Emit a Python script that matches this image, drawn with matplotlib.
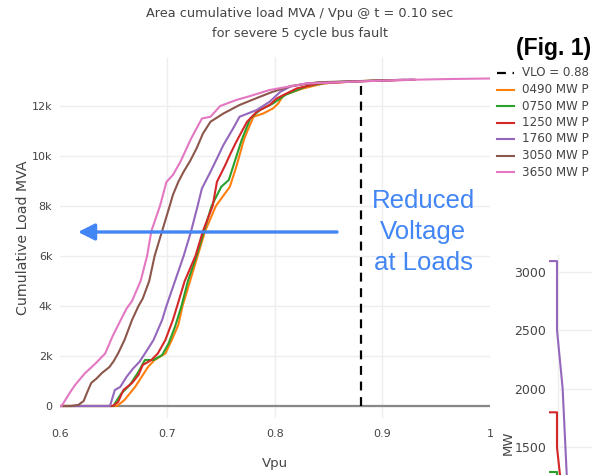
import matplotlib.pyplot as plt
from matplotlib.lines import Line2D
from matplotlib.ticker import FuncFormatter

# cumulative load (MVA) vs Vpu for each PDCI flow case
v_0490 = [0.600, 0.653, 0.660, 0.670, 0.676, 0.682, 0.688, 0.698, 0.704, 0.710, 0.714, 0.721, 0.728, 0.735,
          0.745, 0.758, 0.764, 0.771, 0.774, 0.780, 0.789, 0.798, 0.803, 0.808, 0.826, 0.845, 0.870, 0.900]
mva_0490 = [0, 0, 240, 770, 1170, 1570, 1840, 2100, 2640, 3240, 4000, 5000, 6000, 7000,
            8000, 8770, 9570, 10640, 10970, 11570, 11700, 11900, 12100, 12440, 12700, 12900, 12980, 13030]

v_0750 = [0.600, 0.650, 0.651, 0.657, 0.665, 0.673, 0.679, 0.687, 0.695, 0.701, 0.707, 0.713, 0.719, 0.727, 0.734,
          0.741, 0.750, 0.757, 0.763, 0.769, 0.777, 0.786, 0.798, 0.810, 0.830, 0.850, 0.900]
mva_0750 = [0, 0, 100, 500, 840, 1370, 1840, 1840, 2040, 2500, 3170, 4000, 5000, 6000, 7000,
            8000, 8770, 9040, 9840, 10640, 11500, 11840, 12100, 12450, 12800, 12950, 13020]

v_1250 = [0.600, 0.649, 0.654, 0.659, 0.667, 0.673, 0.677, 0.685, 0.691, 0.698, 0.705, 0.709, 0.716, 0.726, 0.733,
          0.742, 0.746, 0.753, 0.758, 0.764, 0.774, 0.783, 0.795, 0.8015, 0.820, 0.840, 0.880, 0.930]
mva_1250 = [0, 0, 160, 640, 920, 1240, 1640, 1840, 2100, 2640, 3440, 4000, 5000, 6000, 7000,
            8000, 8970, 9570, 10040, 10570, 11370, 11770, 12040, 12300, 12700, 12900, 12990, 13050]

v_1760 = [0.600, 0.6465, 0.651, 0.656, 0.662, 0.668, 0.674, 0.679, 0.687, 0.695, 0.699, 0.707, 0.715, 0.722,
          0.728, 0.732, 0.740, 0.746, 0.752, 0.761, 0.767, 0.783, 0.795, 0.805, 0.814, 0.829, 0.870, 0.928]
mva_1760 = [0, 0, 640, 760, 1170, 1500, 1770, 2100, 2640, 3440, 4000, 5000, 6000, 7000,
            8000, 8700, 9370, 9900, 10440, 11100, 11570, 11840, 12170, 12570, 12770, 12900, 12980, 13060]

v_3050 = [0.600, 0.610, 0.617, 0.622, 0.625, 0.629, 0.634, 0.639, 0.646, 0.650, 0.654, 0.660, 0.667, 0.673, 0.677,
          0.683, 0.688, 0.695, 0.702, 0.705, 0.710, 0.715, 0.721, 0.727, 0.733, 0.740, 0.752, 0.767, 0.786,
          0.798, 0.815, 0.840, 0.880, 0.920]
mva_3050 = [0, 0, 40, 200, 520, 920, 1100, 1320, 1560, 1800, 2100, 2640, 3440, 4000, 4300,
            5000, 6000, 7000, 8000, 8440, 8960, 9370, 9800, 10300, 10900, 11370, 11700, 12040, 12370,
            12570, 12800, 12950, 13000, 13050]

v_3650 = [0.600, 0.6015, 0.609, 0.614, 0.623, 0.633, 0.642, 0.649, 0.656, 0.662, 0.667, 0.675, 0.681, 0.685,
          0.693, 0.699, 0.705, 0.712, 0.722, 0.732, 0.740, 0.749, 0.764, 0.777, 0.795, 0.829, 0.870, 0.916,
          0.963, 1.000]
mva_3650 = [0, 0, 520, 840, 1300, 1700, 2100, 2800, 3400, 3900, 4200, 5000, 6000, 7000,
            8000, 8960, 9240, 9770, 10700, 11500, 11570, 12000, 12240, 12400, 12640, 12900, 12970, 13040,
            13080, 13100]

# legend labels as far as the reference shows them (cut at the right edge)
names = ["0490 MW P", "0750 MW P", "1250 MW P", "1760 MW P", "3050 MW P", "3650 MW P"]
vlo_name = "VLO = 0.88"
xs = [v_0490, v_0750, v_1250, v_1760, v_3050, v_3650]
ys = [mva_0490, mva_0750, mva_1250, mva_1760, mva_3050, mva_3650]
colors = ["#ff7f0e", "#2ca02c", "#d62728", "#9467bd", "#8c564b", "#e377c2"]

vlo = 0.88
vlo_mva = [0, 13000]

# partial second chart (MW), bottom right
mw_purple_x = [0, 1, 1, 1.7, 2.4]
mw_purple = [3091, 3091, 2502, 2006, 1000]
mw_red_x = [0, 1, 1, 1.8]
mw_red = [1798, 1798, 1496, 1000]
mw_green_x = [0, 1, 1, 1.2]
mw_green = [1285, 1285, 1200, 1000]

W, H = 592, 475
fig = plt.figure(figsize=(W / 100, H / 100), dpi=100)
grey = "#444444"
blue = "#4285f4"
font = "DejaVu Sans"

ax = fig.add_axes([60 / W, 1 - 418 / H, 430 / W, 361 / H])
for x, y, c in zip(xs, ys, colors):
    ax.plot(x, y, color=c, lw=1.5, zorder=3)
ax.plot([vlo, vlo], vlo_mva, color="black", lw=1.6, dashes=(4, 3), zorder=3)
ax.axhline(0, color="#888888", lw=1.6, zorder=2)
ax.vlines([0.7, 0.8, 0.9], -480, 13960, color="#eeeeee", lw=1, zorder=1)
ax.set_xlim(0.6, 1.0)
ax.set_ylim(-480, 13960)
ax.set_xticks([0.6, 0.7, 0.8, 0.9, 1.0])
ax.set_xticklabels(["0.6", "0.7", "0.8", "0.9", "1"])
ax.set_yticks([0, 2000, 4000, 6000, 8000, 10000, 12000])
ax.yaxis.set_major_formatter(FuncFormatter(lambda v, p: "0" if v == 0 else "%dk" % (v / 1000)))
ax.yaxis.grid(color="#eeeeee", lw=1)
ax.set_axisbelow(True)
for s in ax.spines.values():
    s.set_visible(False)
ax.tick_params(length=0, labelsize=8, labelcolor=grey)
ax.tick_params(axis="x", pad=8)
ax.tick_params(axis="y", pad=5.5)
for t in ax.get_xticklabels() + ax.get_yticklabels():
    t.set_family(font)
ax.set_xlabel("Vpu", fontsize=9.5, color=grey, family=font, labelpad=13)
ax.set_ylabel("Cumulative Load MVA", fontsize=10.2, color=grey, family=font, labelpad=1)

# arrow + annotation
ax.annotate("", xy=(0.6167, 6960), xytext=(0.8577, 6960),
            arrowprops=dict(arrowstyle="-|>,head_length=1.0,head_width=0.5", lw=2.4, color=blue,
                            shrinkA=0, shrinkB=0))
ax.text(0.9377, 6960, "Reduced\nVoltage\nat Loads", color=blue, fontsize=18.5, ha="center", va="center",
        family="Liberation Sans", linespacing=1.36)

# title
fig.text(300 / W, 1 - 13 / H, "Area cumulative load MVA / Vpu @ t = 0.10 sec", ha="center", va="center",
         fontsize=9.3, color=grey, family=font)
fig.text(300 / W, 1 - 33 / H, "for severe 5 cycle bus fault", ha="center", va="center", fontsize=9.3,
         color=grey, family=font)
fig.text(591 / W, 1 - 49 / H, "(Fig. 1)", ha="right", va="center", fontsize=16.5, fontweight="bold",
         family="Liberation Sans", color="black")

# legend
leg_y = [73, 89.5, 106, 122.5, 139, 155.5, 172]
fig.add_artist(Line2D([497 / W, 514 / W], [1 - leg_y[0] / H] * 2, color="black", lw=1.6, dashes=(4, 3)))
fig.text(522 / W, 1 - leg_y[0] / H, vlo_name, va="center", fontsize=8.6, color=grey, family=font)
for yy, n, c in zip(leg_y[1:], names, colors):
    fig.add_artist(Line2D([497 / W, 514 / W], [1 - yy / H] * 2, color=c, lw=1.5))
    fig.text(522 / W, 1 - yy / H, n, va="center", fontsize=8.6, color=grey, family=font)

# second chart, cut off by the figure edge
ax2 = fig.add_axes([549 / W, 0, 100 / W, 220 / H])
ax2.set_xlim(0, 12.5)
ax2.set_ylim(1262, 3143)
ax2.hlines([1500, 2000, 2500, 3000], 1.1, 12.5, color="#eeeeee", lw=1, zorder=1)
ax2.axvline(1.1, color="#eeeeee", lw=1, zorder=1)
ax2.plot(mw_purple_x, mw_purple, color="#9467bd", lw=1.5, zorder=3)
ax2.plot(mw_red_x, mw_red, color="#d62728", lw=1.5, zorder=3)
ax2.plot(mw_green_x, mw_green, color="#2ca02c", lw=1.5, zorder=3)
ax2.set_yticks([1500, 2000, 2500, 3000])
ax2.set_xticks([])
for s in ax2.spines.values():
    s.set_visible(False)
ax2.tick_params(length=0, labelsize=9, labelcolor=grey, pad=2)
for t in ax2.get_yticklabels():
    t.set_family(font)
fig.text(508 / W, 1 - 443 / H, "MW", rotation=90, ha="center", va="center", fontsize=9.5, color=grey,
         family=font)

fig.savefig("out.png", dpi=100)
